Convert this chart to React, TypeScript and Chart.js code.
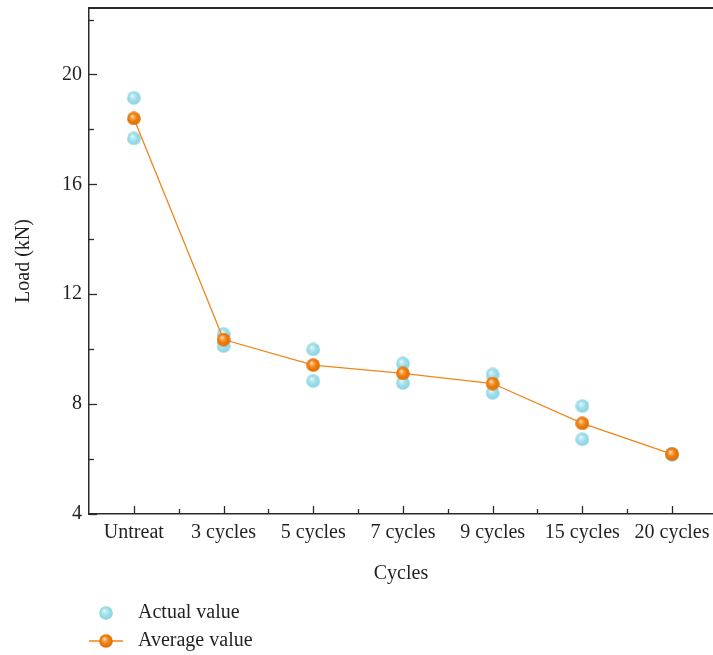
import React, { useEffect, useRef } from 'react';
import { Chart, registerables } from 'chart.js';

Chart.register(...registerables);

const categories = ['Untreat', '3 cycles', '5 cycles', '7 cycles', '9 cycles', '15 cycles', '20 cycles'];
const actualHigh = [19.15, 10.55, 9.99, 9.48, 9.08, 7.93, 6.2];
const actualLow = [17.67, 10.11, 8.84, 8.77, 8.41, 6.72, 6.15];
const averageValues = [18.4, 10.35, 9.42, 9.12, 8.75, 7.3, 6.18];
const yMajorTicks = [4, 8, 12, 16, 20];
const yMinorTicks = [6, 10, 14, 18, 22];
const yTitle = 'Load (kN)';
const xTitle = 'Cycles';
const actualLabel = 'Actual value';
const averageLabel = 'Average value';

const FONT = "'Liberation Serif', 'Times New Roman', serif";
const TEXT = '#231f20';
const AXIS = '#2b2b2b';
const ORANGE = '#f08519';

function makeBall(light: string, base: string, dark: string): HTMLCanvasElement {
  const c = document.createElement('canvas');
  c.width = 14;
  c.height = 14;
  const g = c.getContext('2d')!;
  const r = 6.8;
  const grad = g.createRadialGradient(5.2, 4.8, 0, 7, 7, r * 1.15);
  grad.addColorStop(0, '#ffffff');
  grad.addColorStop(0.18, light);
  grad.addColorStop(0.5, base);
  grad.addColorStop(1, dark);
  g.fillStyle = grad;
  g.beginPath();
  g.arc(7, 7, r, 0, Math.PI * 2);
  g.fill();
  return c;
}

export default function App() {
  const ref = useRef<HTMLCanvasElement | null>(null);

  useEffect(() => {
    if (!ref.current) return;
    const cyanBall = makeBall('#c6edf4', '#9fdeea', '#86d0e0');
    const orangeBall = makeBall('#f8b46a', '#f07f0c', '#d86800');

    const actualPoints = [
      ...actualHigh.map((v, i) => ({ x: i, y: v })),
      ...actualLow.map((v, i) => ({ x: i, y: v })),
    ];
    const averagePoints = averageValues.map((v, i) => ({ x: i, y: v }));

    const line = (ctx: CanvasRenderingContext2D, x1: number, y1: number, x2: number, y2: number) => {
      ctx.beginPath();
      ctx.moveTo(x1, y1);
      ctx.lineTo(x2, y2);
      ctx.stroke();
    };

    const framePlugin = {
      id: 'frameAndLegend',
      afterDraw(chart: any) {
        const { ctx, chartArea, scales } = chart;
        const { left, top, right } = chartArea;
        const bottom = chartArea.bottom;
        const x = scales.x;
        const y = scales.y;
        ctx.save();
        ctx.strokeStyle = AXIS;
        ctx.lineWidth = 1.3;
        [...yMajorTicks, ...yMinorTicks].forEach((v) => {
          const py = Math.round(y.getPixelForValue(v)) + 0.5;
          const len = yMajorTicks.includes(v) ? 8 : 5;
          line(ctx, left, py, left + len, py);
        });
        categories.forEach((_, i) => {
          const px = Math.round(x.getPixelForValue(i)) + 0.5;
          line(ctx, px, bottom, px, bottom - 8);
          if (i + 0.5 < x.max) {
            const mx = Math.round(x.getPixelForValue(i + 0.5)) + 0.5;
            line(ctx, mx, bottom, mx, bottom - 5);
          }
        });
        ctx.lineWidth = 2;
        line(ctx, left - 0.75, top, right, top);

        // legend
        const lx = left + 17;
        const y1 = 613;
        const y2 = 641;
        ctx.drawImage(cyanBall, lx - 7, y1 - 7);
        ctx.strokeStyle = ORANGE;
        ctx.lineWidth = 1.3;
        line(ctx, left, y2, left + 34, y2);
        ctx.drawImage(orangeBall, lx - 7, y2 - 7);
        ctx.fillStyle = TEXT;
        ctx.font = `20px ${FONT}`;
        ctx.textBaseline = 'middle';
        ctx.textAlign = 'left';
        ctx.fillText(actualLabel, left + 49, y1);
        ctx.fillText(averageLabel, left + 49, y2);
        ctx.restore();
      },
    };

    const chart = new Chart(ref.current, {
      type: 'line',
      data: {
        datasets: [
          {
            label: averageLabel,
            data: averagePoints,
            borderColor: ORANGE,
            borderWidth: 1.3,
            pointStyle: orangeBall as any,
            pointRadius: 7,
            showLine: true,
            order: 0,
          },
          {
            label: actualLabel,
            data: actualPoints,
            showLine: false,
            pointStyle: cyanBall as any,
            pointRadius: 7,
            order: 1,
          },
        ],
      },
      options: {
        animation: false,
        responsive: false,
        devicePixelRatio: 1,
        layout: { autoPadding: false, padding: { left: 0, top: 8, right: 0, bottom: 67 } },
        plugins: {
          legend: { display: false },
          tooltip: { enabled: false },
        },
        scales: {
          x: {
            type: 'linear',
            min: -0.5,
            max: 6.457,
            grid: { display: false, drawTicks: false },
            border: { display: true, color: AXIS, width: 1.5 },
            afterBuildTicks: (scale: any) => {
              scale.ticks = categories.map((_, i) => ({ value: i }));
            },
            afterFit: (scale: any) => {
              scale.height = 74;
              scale.paddingLeft = 0;
              scale.paddingRight = 0;
            },
            ticks: {
              autoSkip: false,
              maxRotation: 0,
              padding: 7,
              color: TEXT,
              font: { family: FONT, size: 20 },
              callback: (v: any) => categories[v] ?? '',
            },
            title: {
              display: true,
              text: xTitle,
              color: TEXT,
              font: { family: FONT, size: 20 },
              padding: { top: 0, bottom: 2 },
            },
          },
          y: {
            type: 'linear',
            min: 4,
            max: 22.42,
            grid: { display: false, drawTicks: false },
            border: { display: true, color: AXIS, width: 1.5 },
            afterBuildTicks: (scale: any) => {
              scale.ticks = yMajorTicks.map((v) => ({ value: v }));
            },
            afterFit: (scale: any) => {
              scale.width = 89;
              scale.paddingTop = 0;
              scale.paddingBottom = 0;
            },
            ticks: {
              padding: 7,
              color: TEXT,
              font: { family: FONT, size: 20 },
            },
            title: {
              display: true,
              text: yTitle,
              color: TEXT,
              font: { family: FONT, size: 20 },
              padding: { top: 11.5, bottom: 0 },
            },
          },
        },
      },
      plugins: [framePlugin],
    } as any);

    return () => chart.destroy();
  }, []);

  return (
    <div style={{ position: 'fixed', left: 0, top: 0, width: 713, height: 655, background: '#fff' }}>
      <canvas ref={ref} width={713} height={655} style={{ width: 713, height: 655, display: 'block' }} />
    </div>
  );
}
